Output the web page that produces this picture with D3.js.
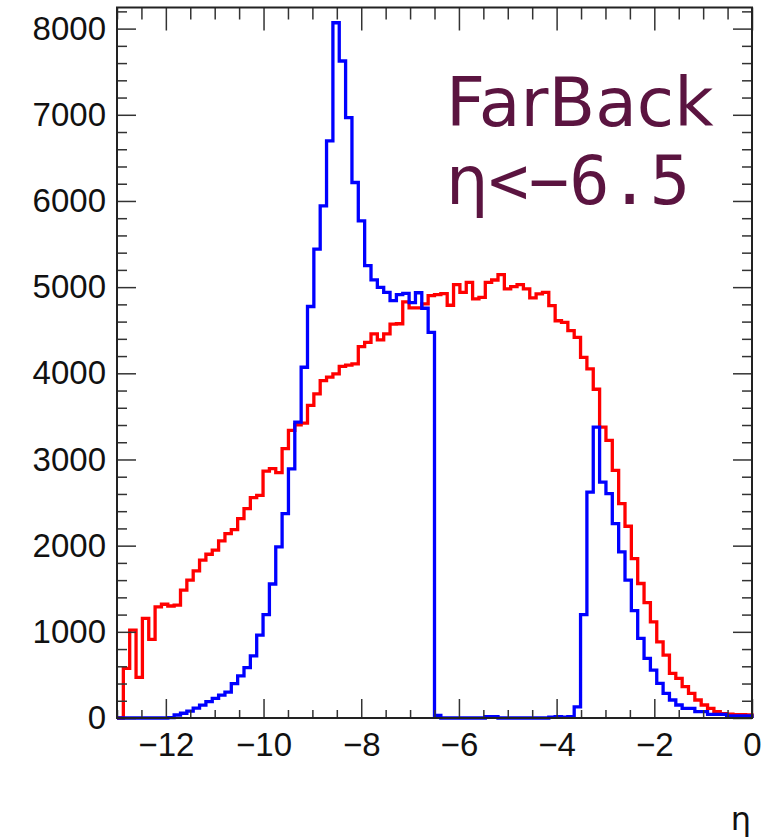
<!DOCTYPE html>
<html>
<head>
<meta charset="utf-8">
<script src="https://cdn.jsdelivr.net/npm/d3@7"></script>
<style>
  html, body { margin: 0; padding: 0; background: #fff; }
  svg { display: block; }
</style>
</head>
<body>
<svg id="chart" width="771" height="839"></svg>
<script>
// ---- data (100 bins from -13 to 0) ----
const binLow = -13;
const binHigh = 0;
const redCounts = [
  0, 576, 1020, 472, 1155, 912, 1290, 1320, 1300, 1310,
  1483, 1599, 1707, 1831, 1900, 1947, 2055, 2140, 2186, 2314,
  2430, 2557, 2584, 2866, 2893, 2847, 3125, 3337, 3403, 3422,
  3627, 3762, 3916, 3955, 3994, 4080, 4095, 4110, 4310, 4360,
  4457, 4388, 4457, 4570, 4575, 4830, 4760, 4760, 4805, 4901,
  4913, 4925, 4790, 5030, 4940, 5055, 4863, 4882, 5055, 5083,
  5145, 4979, 5006, 5029, 4979, 4875, 4921, 4940, 4785, 4610,
  4590, 4496, 4418, 4186, 4052, 3815, 3375, 3221, 2874, 2488,
  2225, 1850, 1561, 1340, 1116, 884, 730, 518, 460, 363,
  286, 209, 151, 112, 73, 50, 45, 40, 40, 35
];
const blueCounts = [
  0, 0, 0, 0, 0, 0, 0, 0, 5, 35,
  55, 80, 115, 150, 190, 228, 266, 300, 400, 490,
  585, 720, 962, 1200, 1555, 1985, 2372, 2890, 3433, 4070,
  4775, 5442, 5944, 6697, 8068, 7624, 6967, 6214, 5770, 5249,
  5085, 4998, 4940, 4843, 4913, 4928, 4820, 4935, 4755, 4476,
  30, 0, 0, 0, 0, 0, 0, 0, 15, 15,
  0, 0, 0, 0, 0, 0, 0, 0, 10, 15,
  10, 15, 130, 1200, 2622, 3375, 2738, 2604, 2256, 1927,
  1599, 1245, 923, 692, 556, 402, 286, 209, 151, 112,
  112, 73, 73, 43, 43, 43, 25, 25, 25, 25
];
const xTickValues = [-12, -10, -8, -6, -4, -2, 0];
const yTickValues = [0, 1000, 2000, 3000, 4000, 5000, 6000, 7000, 8000];
const xTitle = "η";
const labelLine1 = "FarBack";
const labelEta = "η";
const labelCut = "<−6.5";

// ---- layout ----
const svg = d3.select("#chart");
const L = 117, R = 752, T = 7.5, B = 718;
const x = d3.scaleLinear().domain([binLow, binHigh]).range([L, R]);
const y = d3.scaleLinear().domain([0, 8245]).range([B, T]);

const nb = redCounts.length;
const bw = (binHigh - binLow) / nb;

function stepPath(counts) {
  const pts = [];
  pts.push([x(binLow), y(0)]);
  counts.forEach((c, i) => {
    const x0 = binLow + i * bw, x1 = binLow + (i + 1) * bw;
    pts.push([x(x0), y(c)]);
    pts.push([x(x1), y(c)]);
  });
  pts.push([x(binHigh), y(0)]);
  return d3.line()(pts);
}

const g = svg.append("g");

// histograms
g.append("path").attr("d", stepPath(redCounts))
  .attr("fill", "none").attr("stroke", "#ff0000").attr("stroke-width", 3.3)
  .attr("stroke-linejoin", "miter");
g.append("path").attr("d", stepPath(blueCounts))
  .attr("fill", "none").attr("stroke", "#0000ff").attr("stroke-width", 3.3)
  .attr("stroke-linejoin", "miter");

// axes via d3 (ticks inward)
const tickColor = "#333";
const xMinor = d3.range(-13, 0.001, 0.5).filter(v => !xTickValues.includes(v));
const yMinor = d3.range(0, 8245, 200).filter(v => !yTickValues.includes(v));

function styleAxis(sel) {
  sel.select(".domain").remove();
  sel.selectAll(".tick line").attr("stroke", tickColor).attr("stroke-width", 1.5);
}

const labelFont = "Liberation Sans, Arial, Helvetica, sans-serif";

// bottom
const xAxisB = d3.axisBottom(x).tickValues(xTickValues).tickSize(-19).tickPadding(15)
  .tickFormat(d => d === 0 ? "0" : "−" + Math.abs(d));
const gxb = svg.append("g").attr("transform", `translate(0,${B})`).call(xAxisB);
styleAxis(gxb);
gxb.selectAll(".tick text").attr("font-family", labelFont)
  .attr("font-size", 33).attr("fill", "#111");
svg.append("g").attr("transform", `translate(0,${B})`)
  .call(d3.axisBottom(x).tickValues(xMinor).tickSize(-8).tickFormat(""))
  .call(styleAxis);
// top
svg.append("g").attr("transform", `translate(0,${T})`)
  .call(d3.axisTop(x).tickValues(xTickValues).tickSize(-23).tickFormat(""))
  .call(styleAxis);
svg.append("g").attr("transform", `translate(0,${T})`)
  .call(d3.axisTop(x).tickValues(xMinor).tickSize(-12).tickFormat(""))
  .call(styleAxis);
// left
const yAxisL = d3.axisLeft(y).tickValues(yTickValues).tickSize(-19).tickPadding(11)
  .tickFormat(d3.format("d"));
const gyl = svg.append("g").attr("transform", `translate(${L},0)`).call(yAxisL);
styleAxis(gyl);
gyl.selectAll(".tick text").attr("font-family", labelFont)
  .attr("font-size", 33).attr("fill", "#111");
svg.append("g").attr("transform", `translate(${L},0)`)
  .call(d3.axisLeft(y).tickValues(yMinor).tickSize(-10).tickFormat(""))
  .call(styleAxis);
// right
svg.append("g").attr("transform", `translate(${R},0)`)
  .call(d3.axisRight(y).tickValues(yTickValues).tickSize(-19).tickFormat(""))
  .call(styleAxis);
svg.append("g").attr("transform", `translate(${R},0)`)
  .call(d3.axisRight(y).tickValues(yMinor).tickSize(-10).tickFormat(""))
  .call(styleAxis);

// frame
svg.append("rect").attr("x", L).attr("y", T).attr("width", R - L).attr("height", B - T)
  .attr("fill", "none").attr("stroke", "#222").attr("stroke-width", 2);

// axis title
svg.append("text").attr("x", 751).attr("y", 830).attr("text-anchor", "end")
  .attr("font-family", "DejaVu Sans, sans-serif").attr("font-size", 32).attr("fill", "#111")
  .text(xTitle);

// label
const labColor = "#5b1440";
svg.append("text").attr("x", 446).attr("y", 126)
  .attr("font-family", "DejaVu Sans, sans-serif").attr("font-size", 68).attr("fill", labColor)
  .text(labelLine1);
const t2 = svg.append("text").attr("x", 446).attr("y", 204).attr("fill", labColor).attr("font-size", 67);
t2.append("tspan").attr("font-family", "DejaVu Sans, sans-serif").text(labelEta);
t2.append("tspan").attr("font-family", "DejaVu Sans Mono, monospace").text(labelCut);
</script>
</body>
</html>
